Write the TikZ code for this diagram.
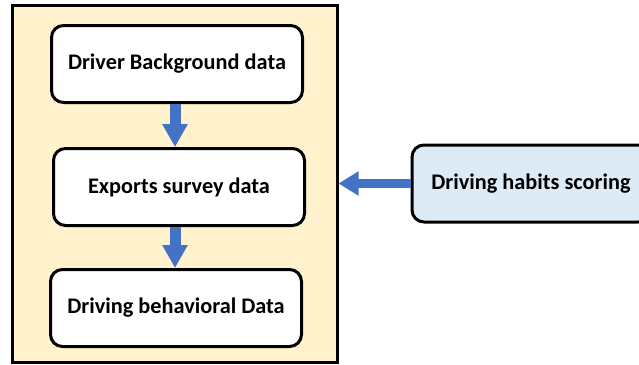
\documentclass[tikz,border=0pt]{standalone}
\usepackage{fontspec}
\setmainfont{Carlito}
\usetikzlibrary{arrows.meta}

\definecolor{panelcream}{HTML}{FFF2CC}
\definecolor{scoreblue}{HTML}{DDEBF7}
\definecolor{arrowblue}{HTML}{4472C4}

\tikzset{
  databox/.style={draw, line width=3pt, rounded corners=12pt, fill=white,
    minimum width=251pt, minimum height=77pt, font=\bfseries\fontsize{22.3}{26}\selectfont},
  scorebox/.style={databox, fill=scoreblue, minimum width=238pt},
  flowarrow/.style={draw=arrowblue, line width=11pt, -{Triangle[length=23pt,width=24pt]}},
  sidearrow/.style={draw=arrowblue, line width=9pt, -{Triangle[length=20pt,width=23pt]}}
}

\begin{document}
\begin{tikzpicture}[x=1pt, y=-1pt]

\clip (0,0) rectangle (639,364);
\useasboundingbox (0,0) rectangle (639,364);

% left panel
\node [draw, line width=3pt, fill=panelcream, minimum width=325pt, minimum height=357pt] (panel) at (174.5,183.5) {};

\node [databox] (background) at (177,64) {Driver Background data};
\node [databox] (survey) at (179,187) {Exports survey data};
\node [databox] (behaviour) at (176,308) {Driving behavioral Data};

\node [scorebox] (scoring) at (531,183.5) {Driving habits scoring};

% arrows
\draw [flowarrow] (background.south -| 175,0) -- (survey.north -| 175,0);
\draw [flowarrow] (survey.south -| 175,0) -- (behaviour.north -| 175,0);
\draw [sidearrow] (scoring.west) -- (panel.east);

\end{tikzpicture}
\end{document}
